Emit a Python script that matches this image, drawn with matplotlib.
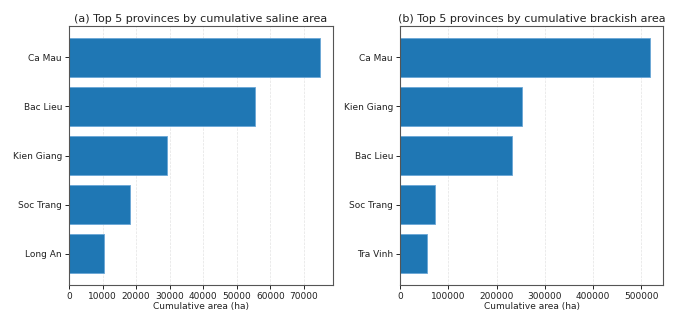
import matplotlib
matplotlib.use("Agg")
import matplotlib.pyplot as plt

saline_provinces = ["Ca Mau", "Bac Lieu", "Kien Giang", "Soc Trang", "Long An"]
saline_area = [74900, 55500, 29200, 18200, 10400]
brackish_provinces = ["Ca Mau", "Kien Giang", "Bac Lieu", "Soc Trang", "Tra Vinh"]
brackish_area = [519000, 253000, 232000, 72000, 55000]

W, H = 682, 313
fig = plt.figure(figsize=(W / 100, H / 100), dpi=100)
ax1 = fig.add_axes([69 / W, 28 / H, 264 / W, 259 / H])
ax2 = fig.add_axes([400 / W, 28 / H, 263 / W, 259 / H])

for ax, names, vals, title in [
    (ax1, saline_provinces, saline_area, "(a) Top 5 provinces by cumulative saline area"),
    (ax2, brackish_provinces, brackish_area, "(b) Top 5 provinces by cumulative brackish area"),
]:
    ax.barh(names[::-1], vals[::-1], height=0.8, color="#1f77b4", edgecolor="#6aa6d6", linewidth=0.6)
    ax.set_title(title, fontsize=8.0, pad=3, color="#222222")
    ax.set_xlabel("Cumulative area (ha)", fontsize=6.5, labelpad=1, color="#222222")
    ax.tick_params(labelsize=6.5, length=3, width=0.6, pad=2, labelcolor="#222222")
    ax.grid(axis="x", linestyle="--", linewidth=0.5, alpha=0.35)
    ax.set_axisbelow(True)
    for s in ax.spines.values():
        s.set_linewidth(0.8)
        s.set_color("#555555")

fig.savefig("out.png", dpi=100)
